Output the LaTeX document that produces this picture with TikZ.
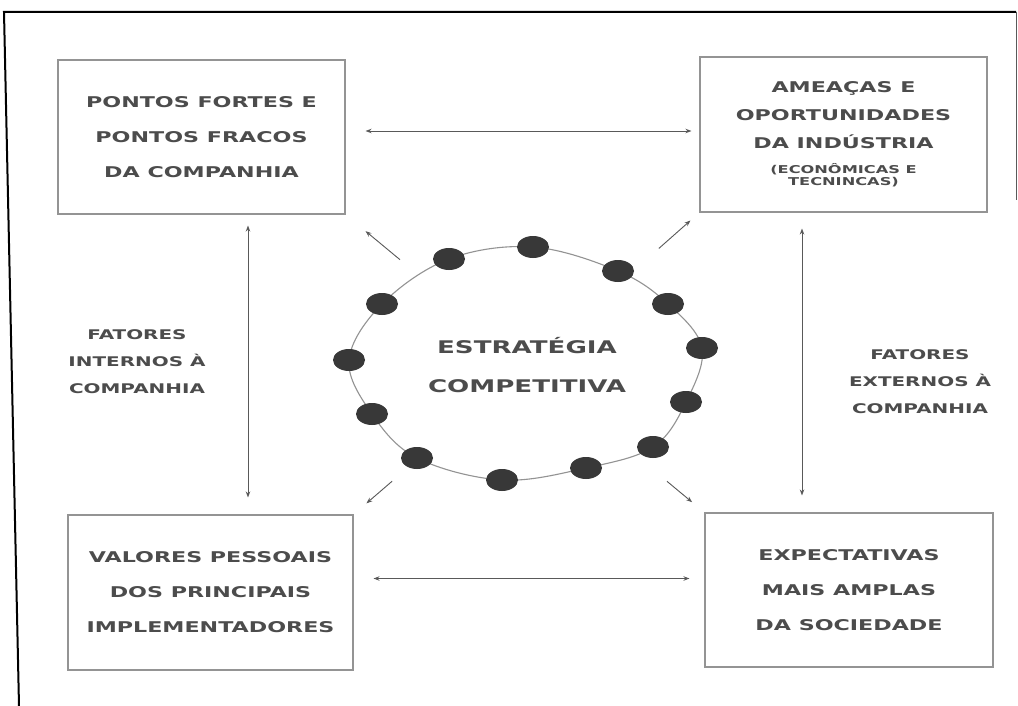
\documentclass[tikz,border=0pt]{standalone}
\usepackage{fontspec}
\setmainfont{DejaVu Sans}[FakeStretch=1.5]
\usetikzlibrary{arrows.meta,backgrounds,shapes.geometric}
\definecolor{ink}{gray}{0.3}
\definecolor{rule}{gray}{0.58}
\definecolor{beadfill}{gray}{0.22}
\tikzset{
  panel/.style={draw=rule, line width=1.1pt, inner sep=0pt, align=center, text=ink,
    font=\fontsize{14.8pt}{35pt}\selectfont\bfseries},
  sidenote/.style={align=center, text=ink, font=\fontsize{13.3pt}{27pt}\selectfont\bfseries},
  core/.style={align=center, text=ink, font=\fontsize{17.4pt}{39pt}\selectfont\bfseries},
  bead/.style={ellipse, fill=beadfill, minimum width=32pt, minimum height=22pt, inner sep=0pt},
  link/.style={draw=gray!70!black, line width=0.9pt},
  tip/.tip={Stealth[length=6pt,width=4.5pt]},
  twoway/.style={link, tip-tip},
  oneway/.style={link, -tip},
}
\begin{document}
\begin{tikzpicture}[x=1pt, y=-1pt]
\useasboundingbox (0,0) rectangle (1018,706);

% page frame
\draw[line width=2pt] (19,706) -- (4,12) -- (1016,12);
\draw[line width=1pt, gray!70!black] (1016,12) -- (1016,200);

% the four panels
\node[panel, minimum width=287pt, minimum height=154pt] (tl) at (201.5,137)
  {PONTOS FORTES E\\PONTOS FRACOS\\DA COMPANHIA};
\node[panel, minimum width=287pt, minimum height=155pt,
      font=\fontsize{14.8pt}{28pt}\selectfont\bfseries] (tr) at (843.5,134.5)
  {AMEAÇAS E\\OPORTUNIDADES\\DA INDÚSTRIA\\[-3pt]
   {\fontsize{10.8pt}{12pt}\selectfont (ECONÔMICAS E}\\[-16pt]
   {\fontsize{10.8pt}{12pt}\selectfont TECNINCAS)}};
\node[panel, minimum width=285pt, minimum height=155pt] (bl) at (210.5,592.5)
  {VALORES PESSOAIS\\DOS PRINCIPAIS\\IMPLEMENTADORES};
\node[panel, minimum width=288pt, minimum height=154pt] (br) at (849,590)
  {EXPECTATIVAS\\MAIS AMPLAS\\DA SOCIEDADE};

% side notes
\node[sidenote] (inner) at (137,362) {FATORES\\INTERNOS À\\COMPANHIA};
\node[sidenote] (outer) at (920,382) {FATORES\\EXTERNOS À\\COMPANHIA};

% centre
\node[core] (c) at (527,365) {ESTRATÉGIA\\COMPETITIVA};

% beads around the ring
\node[bead] (d1)  at (533,247) {};
\node[bead] (d2)  at (618,271) {};
\node[bead] (d3)  at (668,304) {};
\node[bead] (d4)  at (702,348) {};
\node[bead] (d5)  at (686,402) {};
\node[bead] (d6)  at (653,447) {};
\node[bead] (d7)  at (586,468) {};
\node[bead] (d8)  at (502,480) {};
\node[bead] (d9)  at (417,458) {};
\node[bead] (d10) at (372,414) {};
\node[bead] (d11) at (349,360) {};
\node[bead] (d12) at (382,304) {};
\node[bead] (d13) at (449,259) {};

% white page and the ring, both behind the beads
\begin{pgfonlayer}{background}
\fill[white] (0,0) rectangle (1018,706);
\draw[draw=gray!85, line width=1.1pt] plot[smooth cycle, tension=0.6] coordinates
  {(d1.center) (d2.center) (d3.center) (d4.center) (d5.center) (d6.center) (d7.center)
   (d8.center) (d9.center) (d10.center) (d11.center) (d12.center) (d13.center)};
\end{pgfonlayer}

% links between panels
\draw[twoway, shorten <=20pt, shorten >=8pt]
  ([yshift=6pt]tl.east) -- ([yshift=6pt]tl.east -| tr.west);
\draw[twoway, shorten <=20pt, shorten >=15pt]
  ([yshift=14pt]bl.east) -- ([yshift=14pt]bl.east -| br.west);
\draw[twoway, shorten <=11pt, shorten >=17pt]
  ([xshift=46.5pt]tl.south) -- ([xshift=46.5pt]tl.south |- bl.north);
\draw[twoway, shorten <=16pt, shorten >=17pt]
  ([xshift=-41.5pt]tr.south) -- ([xshift=-41.5pt]tr.south |- br.north);

% strategy radiating to the panels
\draw[oneway, shorten <=165pt, shorten >=26pt] (c.center) -- (tl.south east);
\draw[oneway, shorten <=176pt, shorten >=12pt] (c.center) -- (tr.south west);
\draw[oneway, shorten <=178pt, shorten >=17pt] (c.center) -- (bl.north east);
\draw[oneway, shorten <=182pt, shorten >=16pt] (c.center) -- (br.north west);
\end{tikzpicture}
\end{document}
